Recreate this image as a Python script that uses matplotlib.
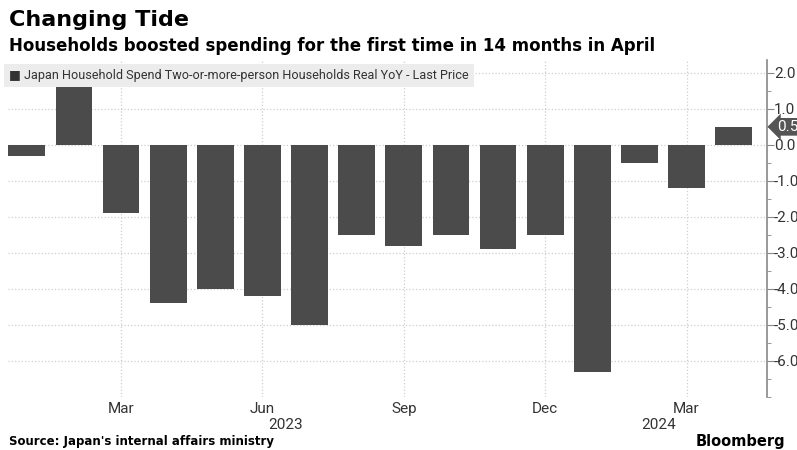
import numpy as np
import matplotlib
matplotlib.use("Agg")
import matplotlib.pyplot as plt
from matplotlib.ticker import MultipleLocator

# Données : dépenses réelles des ménages (2 personnes ou plus), en % sur un an
months = ['Jan', 'Feb', 'Mar', 'Apr', 'May', 'Jun', 'Jul', 'Aug', 'Sep', 'Oct', 'Nov', 'Dec',
          'Jan', 'Feb', 'Mar', 'Apr']
years = [2023] * 12 + [2024] * 4
values = [-0.3, 1.6, -1.9, -4.4, -4.0, -4.2, -5.0, -2.5, -2.8, -2.5, -2.9, -2.5,
          -6.3, -0.5, -1.2, 0.5]
tick_months = ['Mar', 'Jun', 'Sep', 'Dec', 'Mar']
tick_idx = [2, 5, 8, 11, 14]
year_labels = ['2023', '2024']
year_pos = [5.5, 13.4]

bar_color = '#4b4b4b'
grid_color = '#cfcfcf'
text_color = '#333333'
narrow = ['Roboto', 'DejaVu Sans']

fig = plt.figure(figsize=(7.97, 4.5), dpi=100)
ax = fig.add_axes([0.010, 0.118, 0.9525, 0.749])

x = np.arange(len(values))
ax.bar(x, values, width=0.78, color=bar_color, zorder=3)

ax.set_xlim(-0.4, 15.71)
ax.set_ylim(-7.0, 2.36)

# axe y à droite
ax.yaxis.tick_right()
ax.yaxis.set_minor_locator(MultipleLocator(0.5))
ax.set_yticks(np.arange(-6, 3, 1.0))
ax.set_yticklabels([f'{v:.1f}' for v in np.arange(-6, 3, 1.0)], family=narrow,
                   fontsize=11, color=text_color)
ax.tick_params(axis='y', which='major', length=5, color='#888888', pad=0)
ax.tick_params(axis='y', which='minor', length=3, color='#888888')

for s in ['top', 'left', 'bottom']:
    ax.spines[s].set_visible(False)
ax.spines['right'].set_color('#888888')
ax.spines['right'].set_linewidth(1.2)

# grille
ax.set_xticks(tick_idx)
ax.set_xticklabels(tick_months, family=narrow, fontsize=11, color=text_color)
ax.tick_params(axis='x', length=0, pad=4)
ax.grid(True, which='major', color=grid_color, linestyle=':', linewidth=0.9, zorder=0)
ax.set_axisbelow(True)

for lab, pos in zip(year_labels, year_pos):
    ax.text(pos, -0.083, lab, transform=ax.get_xaxis_transform(), ha='center', va='center',
            family=narrow, fontsize=11, color=text_color)

# étiquette dernière valeur
last = values[-1]
ax.annotate(f'{last:.1f}', xy=(1.0, last), xycoords=('axes fraction', 'data'),
            xytext=(7, 0), textcoords='offset points', ha='left', va='center',
            family=narrow, fontsize=11, color='white',
            bbox=dict(boxstyle='larrow,pad=0.12', fc='#555555', ec='none'),
            annotation_clip=False)

# légende
ax.text(0.002, 0.972, '\u25A0 Japan Household Spend Two-or-more-person Households Real YoY - Last Price',
        transform=ax.transAxes, ha='left', va='top', family=narrow, fontsize=9.1,
        color=text_color,
        bbox=dict(boxstyle='square,pad=0.4', fc='#ececec', ec='none'), zorder=5)

# titres
fig.text(0.011, 0.955, 'Changing Tide', fontsize=16, fontweight='bold', color='black',
         ha='left', va='center')
fig.text(0.011, 0.897, 'Households boosted spending for the first time in 14 months in April',
         fontsize=12, fontweight='bold', color='black', ha='left', va='center')
fig.text(0.011, 0.018, "Source: Japan's internal affairs ministry", fontsize=8.5,
         fontweight='bold', color='black', ha='left', va='center')
fig.text(0.985, 0.018, 'Bloomberg', fontsize=10.5, fontweight='bold', color='black',
         ha='right', va='center')

fig.savefig('out.png', dpi=100)
